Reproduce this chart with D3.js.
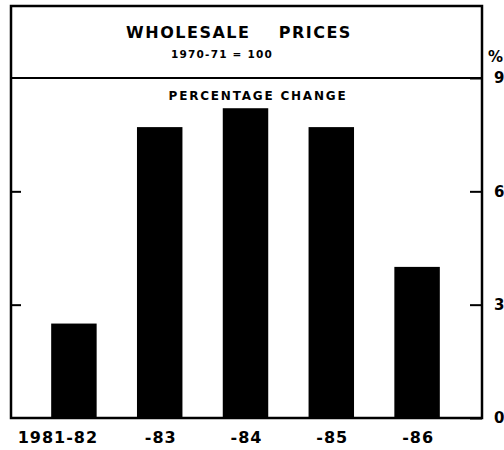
<!DOCTYPE html>
<html>
<head>
<meta charset="utf-8">
<script src="https://cdn.jsdelivr.net/npm/d3@7"></script>
<style>
  body { margin: 0; background: #fff; }
  svg text { font-family: "DejaVu Sans", sans-serif; font-weight: bold; fill: #000; }
</style>
</head>
<body>
<div id="chart"></div>
<script>
var years = ["1981-82", "-83", "-84", "-85", "-86"];
var change = [2.5, 7.7, 8.2, 7.7, 4.0];
var yTicks = [0, 3, 6, 9];

var svgWidth = 504;
var svgHeight = 450;

var frame = { left: 11, right: 482, top: 6, plotTop: 78, bottom: 418 };

var svg = d3.select("#chart")
  .append("svg")
  .attr("width", svgWidth)
  .attr("height", svgHeight);

var xBand = d3.scaleBand()
  .domain(years)
  .range([frame.left, frame.right])
  .paddingInner(0.47)
  .paddingOuter(0.48);

var yLinear = d3.scaleLinear()
  .domain([0, 9])
  .range([frame.bottom, frame.plotTop]);

// bars
svg.selectAll("rect.bar")
  .data(change)
  .enter()
  .append("rect")
  .classed("bar", true)
  .attr("x", (d, i) => xBand(years[i]) - 1)
  .attr("width", xBand.bandwidth())
  .attr("y", d => yLinear(d))
  .attr("height", d => yLinear(0) - yLinear(d))
  .attr("fill", "#000");

// outer frame and title divider
svg.append("rect")
  .attr("x", frame.left)
  .attr("y", frame.top)
  .attr("width", frame.right - frame.left)
  .attr("height", frame.bottom - frame.top)
  .attr("fill", "none")
  .attr("stroke", "#000")
  .attr("stroke-width", 2.5);

svg.append("line")
  .attr("x1", frame.left)
  .attr("x2", frame.right)
  .attr("y1", yLinear(9))
  .attr("y2", yLinear(9))
  .attr("stroke", "#000")
  .attr("stroke-width", 2);

// right axis: ticks pointing inward, labels outside
var rightAxis = d3.axisRight(yLinear)
  .tickValues(yTicks)
  .tickSizeInner(-12)
  .tickSizeOuter(0)
  .tickPadding(12)
  .tickFormat(d3.format("d"));

var rAxis = svg.append("g")
  .attr("transform", `translate(${frame.right}, 0)`)
  .call(rightAxis);
rAxis.select(".domain").remove();
rAxis.selectAll("line").attr("stroke", "#000").attr("stroke-width", 2);
rAxis.selectAll("text").attr("font-size", 15).attr("font-family", "DejaVu Sans").attr("font-weight", "bold");

// left axis: inward ticks only
var leftAxis = d3.axisLeft(yLinear)
  .tickValues([3, 6])
  .tickSizeInner(-10)
  .tickSizeOuter(0)
  .tickFormat("");

var lAxis = svg.append("g")
  .attr("transform", `translate(${frame.left}, 0)`)
  .call(leftAxis);
lAxis.select(".domain").remove();
lAxis.selectAll("line").attr("stroke", "#000").attr("stroke-width", 2);

// bottom labels
var bottomAxis = d3.axisBottom(xBand).tickSize(0).tickPadding(14);
var bAxis = svg.append("g")
  .attr("transform", `translate(0, ${frame.bottom})`)
  .call(bottomAxis);
bAxis.select(".domain").remove();
bAxis.selectAll("text")
  .attr("font-size", 16)
  .attr("font-family", "DejaVu Sans")
  .attr("font-weight", "bold")
  .attr("letter-spacing", 1)
  .attr("dx", (d, i) => i === 0 ? -17 : 0);

// percent sign above right scale
svg.append("text")
  .attr("x", 488)
  .attr("y", 62)
  .attr("font-size", 15)
  .text("%");

// titles
svg.append("text")
  .attr("x", 239)
  .attr("y", 38)
  .attr("text-anchor", "middle")
  .attr("font-size", 16)
  .attr("letter-spacing", 1.5)
  .attr("xml:space", "preserve")
  .text("WHOLESALE    PRICES");

svg.append("text")
  .attr("x", 222)
  .attr("y", 58)
  .attr("text-anchor", "middle")
  .attr("font-size", 10.5)
  .attr("letter-spacing", 1.2)
  .attr("xml:space", "preserve")
  .text("1970-71 = 100");

svg.append("text")
  .attr("x", 258)
  .attr("y", 100)
  .attr("text-anchor", "middle")
  .attr("font-size", 12)
  .attr("letter-spacing", 1.8)
  .text("PERCENTAGE CHANGE");
</script>
</body>
</html>
